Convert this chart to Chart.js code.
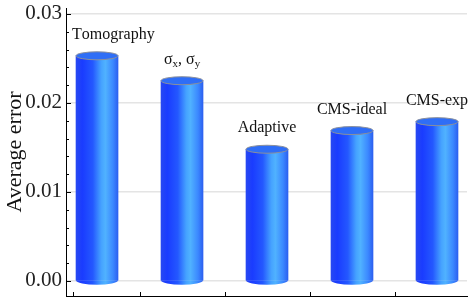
<!DOCTYPE html>
<html>
<head>
<meta charset="utf-8">
<script src="https://cdn.jsdelivr.net/npm/chart.js@4/dist/chart.umd.min.js"></script>
<style>
html,body{margin:0;padding:0;background:#fff;}
canvas{display:block;}
</style>
</head>
<body>
<canvas id="c" width="474" height="305"></canvas>
<script>
// ---- data ----
const categories = ['Tomography', 'σ_x, σ_y', 'Adaptive', 'CMS-ideal', 'CMS-exp'];
const positions = [1, 2, 3, 4, 5];
const errors = [0.0253, 0.0225, 0.0148, 0.0169, 0.0179];
const yMajorTicks = [0.00, 0.01, 0.02, 0.03];
const yTickLabels = ['0.00', '0.01', '0.02', '0.03'];
const xTickPositions = [0.72, 1.5, 2.5, 3.5, 4.5];

const SERIF = '"Liberation Serif", "Times New Roman", serif';

function barGradient(ctx, cx, w) {
  const g = ctx.createLinearGradient(cx - w / 2, 0, cx + w / 2, 0);
  g.addColorStop(0.00, '#2748f2');
  g.addColorStop(0.15, '#1a3cff');
  g.addColorStop(0.40, '#2458ff');
  g.addColorStop(0.60, '#45a2ff');
  g.addColorStop(0.70, '#50b2ff');
  g.addColorStop(0.88, '#3b88ff');
  g.addColorStop(1.00, '#2c60f0');
  return g;
}

function drawRich(ctx, text, cx, cy, size) {
  const parts = [];
  for (let i = 0; i < text.length; i++) {
    if (text[i] === '_' && i + 1 < text.length) { parts.push({t: text[i + 1], sub: true}); i++; }
    else parts.push({t: text[i], sub: false});
  }
  const mainFont = size + 'px ' + SERIF;
  const subFont = Math.round(size * 0.7) + 'px ' + SERIF;
  let total = 0;
  parts.forEach(p => { ctx.font = p.sub ? subFont : mainFont; p.w = ctx.measureText(p.t).width; total += p.w; });
  return {total, draw: (left) => {
    let x = left;
    parts.forEach(p => {
      ctx.font = p.sub ? subFont : mainFont;
      ctx.fillText(p.t, x, p.sub ? cy + size * 0.28 : cy);
      x += p.w;
    });
  }};
}

const cylinderPlugin = {
  id: 'cylinders',
  afterDatasetsDraw(chart) {
    const ctx = chart.ctx;
    const meta = chart.getDatasetMeta(0);
    const area = chart.chartArea;
    ctx.save();
    meta.data.forEach((bar, i) => {
      const w = bar.width, x = bar.x, top = bar.y, base = bar.base;
      ctx.beginPath();
      ctx.ellipse(x, base, w / 2, 4.5, 0, 0, Math.PI);
      ctx.closePath();
      ctx.fillStyle = barGradient(ctx, x, w);
      ctx.fill();
      ctx.beginPath();
      ctx.ellipse(x, top, w / 2, 4, 0, 0, Math.PI * 2);
      ctx.fillStyle = '#2f6ef6';
      ctx.fill();
      ctx.lineWidth = 1;
      ctx.strokeStyle = '#8a8f9c';
      ctx.stroke();
      ctx.fillStyle = '#111';
      ctx.textBaseline = 'middle';
      ctx.textAlign = 'left';
      const r = drawRich(ctx, categories[i], x, top - 21, 16);
      let left = x - r.total / 2;
      left = Math.max(left, area.left + 6);
      left = Math.min(left, area.right + 4 - r.total);
      r.draw(left);
    });
    ctx.restore();
  },
  afterDraw(chart) {
    const ctx = chart.ctx;
    const ys = chart.scales.y, xs = chart.scales.x;
    const area = chart.chartArea;
    ctx.save();
    ctx.strokeStyle = '#000';
    ctx.lineWidth = 1;
    ys.ticks.forEach(t => {
      const v = t.value;
      const isMajor = Math.abs(v / 0.01 - Math.round(v / 0.01)) < 1e-6;
      const py = Math.round(ys.getPixelForValue(v)) + 0.5;
      ctx.beginPath();
      ctx.moveTo(area.left, py);
      ctx.lineTo(area.left + (isMajor ? 5 : 3), py);
      ctx.stroke();
    });
    xTickPositions.forEach(v => {
      const px = Math.round(xs.getPixelForValue(v)) + 0.5;
      ctx.beginPath();
      ctx.moveTo(px, area.bottom);
      ctx.lineTo(px, area.bottom - 4);
      ctx.stroke();
    });
    ctx.restore();
  }
};

new Chart(document.getElementById('c'), {
  type: 'bar',
  data: {
    datasets: [{
      data: positions.map((p, i) => ({x: p, y: errors[i]})),
      barThickness: 42,
      borderWidth: 0,
      backgroundColor: (c) => {
        if (c.type !== 'data') return '#2458ff';
        const chart = c.chart;
        const xs = chart.scales.x;
        if (!xs || !chart.chartArea) return '#2458ff';
        const cx = xs.getPixelForValue(c.parsed.x);
        return barGradient(chart.ctx, cx, 42);
      }
    }]
  },
  options: {
    responsive: false,
    animation: false,
    devicePixelRatio: 1,
    layout: {padding: {top: 8, right: 7, bottom: 0, left: 0}},
    plugins: {legend: {display: false}, tooltip: {enabled: false}},
    scales: {
      x: {
        type: 'linear',
        offset: false,
        min: 0.635,
        max: 5.353,
        afterFit(s) { s.height = 9; s.paddingLeft = 0; s.paddingRight = 0; },
        ticks: {display: false},
        grid: {display: false, drawTicks: false, offset: false},
        border: {display: true, color: '#000', width: 1}
      },
      y: {
        min: -0.00169,
        max: 0.03067,
        afterBuildTicks(s) {
          const t = [];
          for (let k = 0; k <= 15; k++) t.push({value: +(k * 0.002).toFixed(4)});
          s.ticks = t;
        },
        afterFit(s) { s.width = 66; s.paddingTop = 0; s.paddingBottom = 0; },
        ticks: {
          autoSkip: false,
          padding: 4,
          color: '#222',
          font: {family: SERIF, size: 21},
          callback: (v) => {
            const idx = yMajorTicks.findIndex(m => Math.abs(m - v) < 1e-7);
            return idx >= 0 ? yTickLabels[idx] : '';
          }
        },
        grid: {
          drawTicks: false,
          color: (c) => {
            const v = c.tick ? c.tick.value : NaN;
            return yMajorTicks.some(m => Math.abs(m - v) < 1e-7) ? '#e4e4e4' : 'rgba(0,0,0,0)';
          },
          lineWidth: 1.5
        },
        border: {display: true, color: '#000', width: 1},
        title: {
          display: true,
          text: 'Average error',
          color: '#111',
          font: {family: SERIF, size: 22},
          padding: {top: 2, bottom: 0}
        }
      }
    }
  },
  plugins: [cylinderPlugin]
});
</script>
</body>
</html>
